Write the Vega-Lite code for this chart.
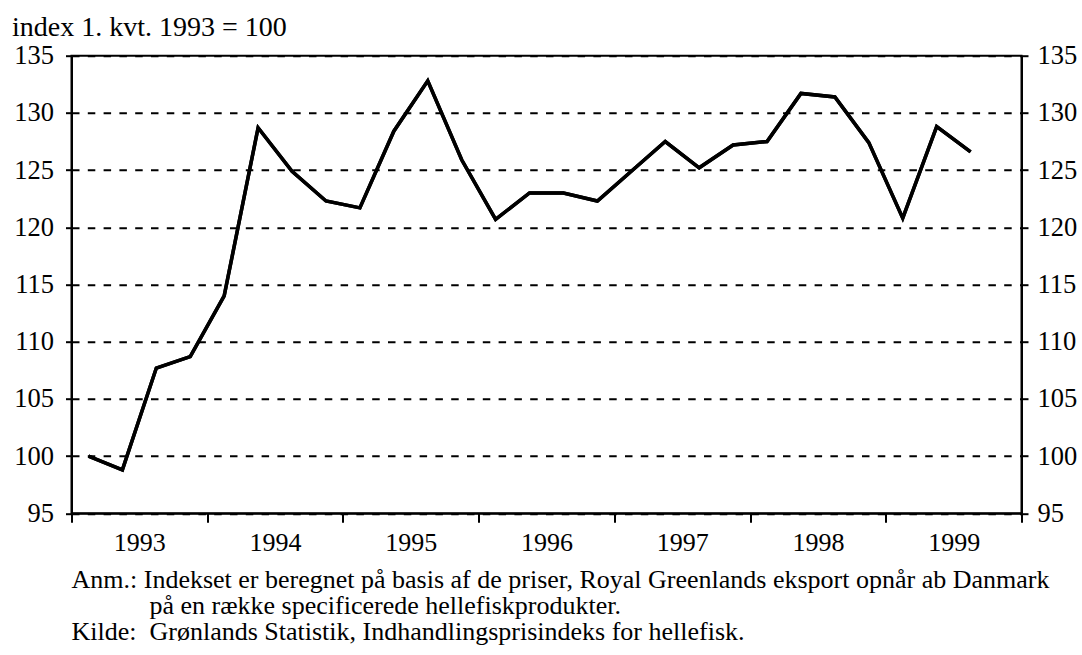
{
  "$schema": "https://vega.github.io/schema/vega-lite/v6.json",
  "width": 950,
  "height": 457.6,
  "autosize": {"type": "none"},
  "padding": {"left": 71.5, "top": 55.7, "right": 60.5, "bottom": 141.7},
  "background": "white",
  "config": {
    "font": "Liberation Serif",
    "view": {"stroke": "black", "strokeWidth": 2},
    "axis": {
      "labelFont": "Liberation Serif",
      "labelColor": "black",
      "titleFont": "Liberation Serif",
      "titleColor": "black",
      "domainColor": "black",
      "domainWidth": 2,
      "tickColor": "black",
      "tickWidth": 2
    }
  },
  "title": {
    "text": [
      "Anm.:\u00a0Indekset er beregnet på basis af de priser, Royal Greenlands eksport opnår ab Danmark",
      "\u200b\u00a0\u00a0\u00a0\u00a0\u00a0\u00a0\u00a0\u00a0\u00a0\u00a0\u00a0\u00a0på en række specificerede hellefiskprodukter.",
      "Kilde:\u00a0\u00a0Grønlands Statistik, Indhandlingsprisindeks for hellefisk."
    ],
    "orient": "bottom",
    "anchor": "start",
    "frame": "group",
    "font": "Liberation Serif",
    "fontSize": 26,
    "fontWeight": "normal",
    "color": "black",
    "lineHeight": 26,
    "offset": 12
  },
  "data": {
    "values": [
      {"kvartal": "1993K1", "aar": 1993.125, "indeks": 100.0},
      {"kvartal": "1993K2", "aar": 1993.375, "indeks": 98.8},
      {"kvartal": "1993K3", "aar": 1993.625, "indeks": 107.7},
      {"kvartal": "1993K4", "aar": 1993.875, "indeks": 108.7},
      {"kvartal": "1994K1", "aar": 1994.125, "indeks": 114.0},
      {"kvartal": "1994K2", "aar": 1994.375, "indeks": 128.7},
      {"kvartal": "1994K3", "aar": 1994.625, "indeks": 124.9},
      {"kvartal": "1994K4", "aar": 1994.875, "indeks": 122.3},
      {"kvartal": "1995K1", "aar": 1995.125, "indeks": 121.7},
      {"kvartal": "1995K2", "aar": 1995.375, "indeks": 128.4},
      {"kvartal": "1995K3", "aar": 1995.625, "indeks": 132.8},
      {"kvartal": "1995K4", "aar": 1995.875, "indeks": 125.9},
      {"kvartal": "1996K1", "aar": 1996.125, "indeks": 120.7},
      {"kvartal": "1996K2", "aar": 1996.375, "indeks": 123.0},
      {"kvartal": "1996K3", "aar": 1996.625, "indeks": 123.0},
      {"kvartal": "1996K4", "aar": 1996.875, "indeks": 122.3},
      {"kvartal": "1997K1", "aar": 1997.125, "indeks": 124.9},
      {"kvartal": "1997K2", "aar": 1997.375, "indeks": 127.5},
      {"kvartal": "1997K3", "aar": 1997.625, "indeks": 125.2},
      {"kvartal": "1997K4", "aar": 1997.875, "indeks": 127.2},
      {"kvartal": "1998K1", "aar": 1998.125, "indeks": 127.5},
      {"kvartal": "1998K2", "aar": 1998.375, "indeks": 131.7},
      {"kvartal": "1998K3", "aar": 1998.625, "indeks": 131.4},
      {"kvartal": "1998K4", "aar": 1998.875, "indeks": 127.4},
      {"kvartal": "1999K1", "aar": 1999.125, "indeks": 120.8},
      {"kvartal": "1999K2", "aar": 1999.375, "indeks": 128.8},
      {"kvartal": "1999K3", "aar": 1999.625, "indeks": 126.6}
    ]
  },
  "encoding": {
    "x": {
      "field": "aar",
      "type": "quantitative",
      "scale": {"domain": [1993, 2000], "nice": false, "zero": false},
      "axis": {
        "title": null,
        "grid": false,
        "values": [1993, 1994, 1995, 1996, 1997, 1998, 1999, 2000],
        "labelExpr": "datum.value < 2000 ? format(datum.value, 'd') : ''",
        "labelOffset": 67.86,
        "labelFlush": false,
        "labelBound": false,
        "labelOverlap": false,
        "labelFont": "Liberation Serif",
        "labelFontSize": 26,
        "labelColor": "black",
        "labelPadding": 7,
        "tickSize": 9
      }
    }
  },
  "layer": [
    {
      "mark": {"type": "line", "color": "black", "strokeWidth": 3.5},
      "encoding": {
        "y": {
          "field": "indeks",
          "type": "quantitative",
          "scale": {"domain": [95, 135], "nice": false, "zero": false},
          "axis": {
            "orient": "left",
            "values": [95, 100, 105, 110, 115, 120, 125, 130, 135],
            "grid": true,
            "gridColor": "black",
            "gridWidth": 2,
            "gridDash": [7.5, 8.3],
            "gridOpacity": 1,
            "labelFont": "Liberation Serif",
            "labelFontSize": 26.5,
            "labelColor": "black",
            "labelPadding": 12,
            "tickSize": 6,
            "title": "index 1. kvt. 1993 = 100",
            "titleFont": "Liberation Serif",
            "titleAngle": 0,
            "titleAlign": "left",
            "titleBaseline": "alphabetic",
            "titleX": -60,
            "titleY": -20,
            "titleFontSize": 28,
            "titleFontWeight": "normal"
          }
        }
      }
    },
    {
      "mark": {"type": "line", "color": "black", "strokeWidth": 3.5},
      "encoding": {
        "y": {
          "field": "indeks",
          "type": "quantitative",
          "scale": {"domain": [95, 135], "nice": false, "zero": false},
          "axis": {
            "orient": "right",
            "values": [95, 100, 105, 110, 115, 120, 125, 130, 135],
            "grid": false,
            "labelFont": "Liberation Serif",
            "labelFontSize": 26.5,
            "labelColor": "black",
            "labelPadding": 9,
            "tickSize": 6.5,
            "title": null
          }
        }
      }
    }
  ],
  "resolve": {"scale": {"y": "independent"}}
}
